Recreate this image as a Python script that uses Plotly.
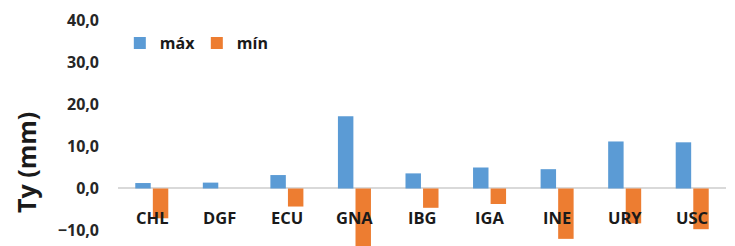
import plotly.graph_objects as go

categories = ["CHL", "DGF", "ECU", "GNA", "IBG", "IGA", "INE", "URY", "USC"]
max_vals = [1.3, 1.4, 3.2, 17.2, 3.6, 5.0, 4.6, 11.2, 11.0]
min_vals = [-7.1, 0.0, -4.3, -15.0, -4.6, -3.7, -12.0, -8.3, -9.7]
y_ticks = [-10, 0, 10, 20, 30, 40]
y_title = "Ty (mm)"

FONT = "Open Sans"
fig = go.Figure()
fig.add_trace(go.Bar(x=categories, y=max_vals, name="máx",
                     marker=dict(color="#5B9BD5", line=dict(width=0))))
fig.add_trace(go.Bar(x=categories, y=min_vals, name="mín",
                     marker=dict(color="#ED7D31", line=dict(width=0))))

for c in categories:
    fig.add_annotation(x=c, y=0, xref="x", yref="y", text=c, showarrow=False,
                       yanchor="top", yshift=-16,
                       font=dict(family=FONT, size=16.5, color="#1a1a1a", weight="bold"))

fig.add_annotation(x=(26 - 118) / 608, y=(246 - 163) / 246, xref="paper", yref="paper",
                   text=y_title, showarrow=False, textangle=-90,
                   xanchor="center", yanchor="middle",
                   font=dict(family=FONT, size=25, color="#1a1a1a", weight="bold"))

fig.update_layout(
    width=735, height=246,
    margin=dict(l=118, r=9, t=0, b=0),
    paper_bgcolor="white", plot_bgcolor="white",
    separators=",.",
    barmode="group", bargap=0.48, bargroupgap=0.12,
    showlegend=True,
    legend=dict(orientation="h", x=0.003, y=(246 - 43) / 246, xanchor="left", yanchor="middle",
                font=dict(family=FONT, size=16, color="#1a1a1a", weight="bold"),
                bgcolor="rgba(0,0,0,0)", itemwidth=30, traceorder="normal",
                entrywidth=32, entrywidthmode="pixels"),
    xaxis=dict(showticklabels=False, showgrid=False, zeroline=False, showline=False),
    yaxis=dict(range=[-13.7, 44.9], tickvals=y_ticks, tickformat=".1f",
               showgrid=False, zeroline=True, zerolinecolor="#d9d9d9", zerolinewidth=2,
               showline=False, ticks="", ticklabelstandoff=18, automargin=False,
               tickfont=dict(family=FONT, size=16, color="#262626", weight="bold")),
)

fig.write_html("out.html", config={"displayModeBar": False},
               post_script="document.body.style.margin='0';document.body.style.overflow='hidden';")
